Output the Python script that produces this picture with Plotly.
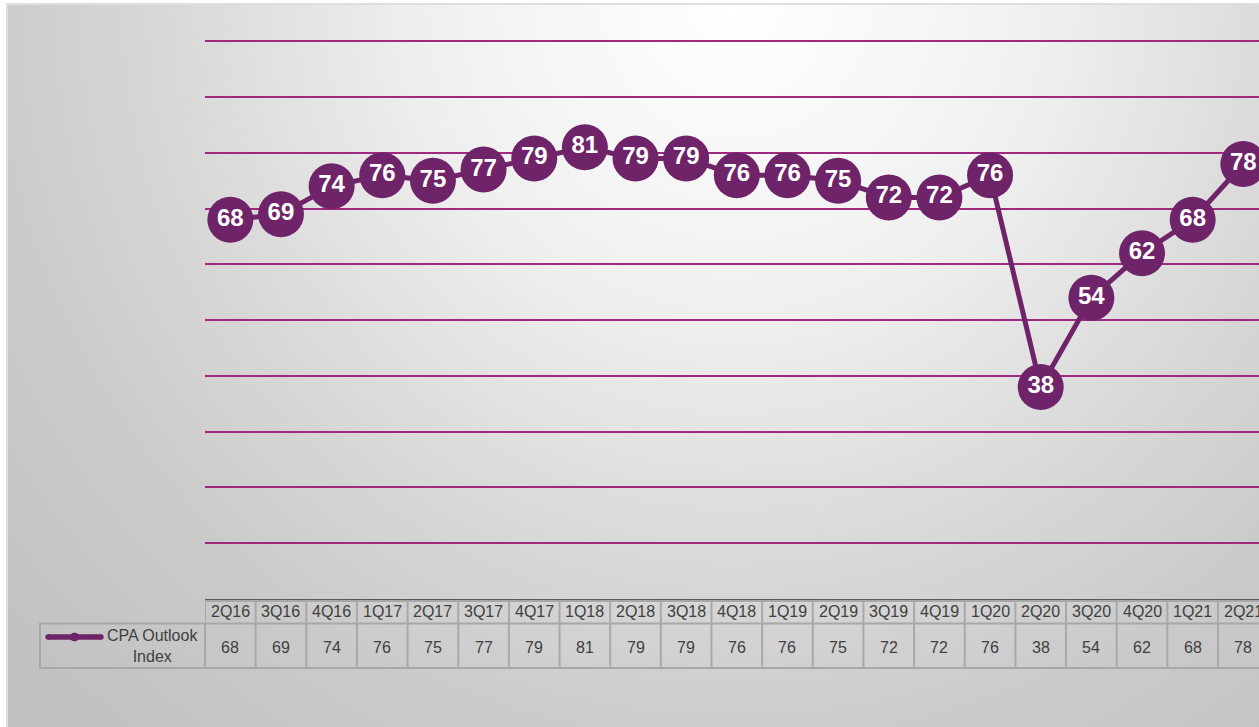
import base64
import plotly.graph_objects as go

# ---- data ----
quarters = ["2Q16", "3Q16", "4Q16", "1Q17", "2Q17", "3Q17", "4Q17", "1Q18", "2Q18", "3Q18",
            "4Q18", "1Q19", "2Q19", "3Q19", "4Q19", "1Q20", "2Q20", "3Q20", "4Q20", "1Q21", "2Q21"]
cpa_index = [68, 69, 74, 76, 75, 77, 79, 81, 79, 79, 76, 76, 75, 72, 72, 76, 38, 54, 62, 68, 78]
series_name = "CPA Outlook<br>Index"
grid_values = list(range(10, 101, 10))

# ---- geometry / style ----
W, H = 1259, 727
ML, MR, MT, MB = 205, 0, 19, 128
PW = W - ML - MR
PH = H - MT - MB
Y0 = MT + PH  # pixel row of value 0

PURPLE = "#6f2469"
GRID = "#9e2a80"
BORDER = "#a8a8a8"
TXT = "#404040"
FONT = "Liberation Sans, Arial, sans-serif"


def px_x(px):
    return (px - ML) / PW


def px_y(py):
    return (Y0 - py) / PH


# background radial gradient (svg data uri)
svg = (
    "<svg xmlns='http://www.w3.org/2000/svg' width='1260' height='730' viewBox='0 0 1260 730' preserveAspectRatio='none'>"
    "<defs><radialGradient id='g' cx='720' cy='0' r='1000' gradientUnits='userSpaceOnUse'>"
    "<stop offset='0' stop-color='#ffffff'/>"
    "<stop offset='0.3' stop-color='#f0f0f0'/>"
    "<stop offset='0.55' stop-color='#d9d9d9'/>"
    "<stop offset='0.75' stop-color='#cacaca'/>"
    "<stop offset='1' stop-color='#c0c0c0'/>"
    "</radialGradient></defs>"
    "<rect x='0' y='0' width='1260' height='730' fill='url(#g)'/></svg>"
)
bg_src = "data:image/svg+xml;base64," + base64.b64encode(svg.encode()).decode()

n = len(quarters)

fig = go.Figure()
fig.add_trace(go.Scatter(
    x=quarters, y=cpa_index,
    mode="lines+markers+text",
    line=dict(color=PURPLE, width=5),
    marker=dict(size=46, color=PURPLE, line=dict(width=0)),
    text=[str(v) for v in cpa_index],
    textposition="middle center",
    textfont=dict(family=FONT, size=24, color="white", weight="bold"),
    hoverinfo="x+y",
    showlegend=False,
))

shapes = []
# outer chart frame
shapes.append(dict(type="rect", xref="paper", yref="paper",
                   x0=px_x(7), x1=px_x(1300), y0=px_y(4), y1=px_y(760),
                   line=dict(color="#d4d4d4", width=1.5), fillcolor="rgba(0,0,0,0)", layer="below"))
# table grid - vertical lines
for k in range(n + 1):
    shapes.append(dict(type="line", xref="x", yref="paper",
                       x0=k - 0.5, x1=k - 0.5, y0=px_y(600), y1=px_y(669),
                       line=dict(color=BORDER, width=2)))
# table horizontal lines
for py in (601, 623.5, 668):
    shapes.append(dict(type="line", xref="x", yref="paper",
                       x0=-0.5, x1=n - 0.5, y0=px_y(py), y1=px_y(py),
                       line=dict(color=BORDER, width=2)))
# legend cell
shapes.append(dict(type="rect", xref="paper", yref="paper",
                   x0=px_x(40), x1=px_x(205), y0=px_y(623.5), y1=px_y(668),
                   line=dict(color=BORDER, width=2), fillcolor="rgba(0,0,0,0)"))
shapes.append(dict(type="line", xref="paper", yref="paper",
                   x0=px_x(48), x1=px_x(101), y0=px_y(637), y1=px_y(637),
                   line=dict(color=PURPLE, width=5.5)))
for cx in (48, 101):
    shapes.append(dict(type="circle", xref="paper", yref="paper",
                       x0=px_x(cx - 2.7), x1=px_x(cx + 2.7), y0=px_y(634.3), y1=px_y(639.7),
                       line=dict(width=0), fillcolor=PURPLE))
shapes.append(dict(type="circle", xref="paper", yref="paper",
                   x0=px_x(70.5), x1=px_x(78.5), y0=px_y(633), y1=px_y(641),
                   line=dict(color=PURPLE, width=1), fillcolor=PURPLE))

annotations = []
for q, v in zip(quarters, cpa_index):
    annotations.append(dict(x=q, xref="x", y=px_y(611), yref="paper", text=q,
                            showarrow=False, xanchor="center", yanchor="middle",
                            font=dict(family=FONT, size=16, color=TXT)))
    annotations.append(dict(x=q, xref="x", y=px_y(647), yref="paper", text=str(v),
                            showarrow=False, xanchor="center", yanchor="middle",
                            font=dict(family=FONT, size=16, color=TXT)))
annotations.append(dict(x=px_x(152), xref="paper", y=px_y(646), yref="paper", text=series_name,
                        showarrow=False, xanchor="center", yanchor="middle", align="center",
                        font=dict(family=FONT, size=16, color=TXT)))

fig.update_layout(
    width=W, height=H,
    margin=dict(l=ML, r=MR, t=MT, b=MB, pad=0),
    paper_bgcolor="white",
    plot_bgcolor="rgba(0,0,0,0)",
    xaxis=dict(type="category", range=[-0.5, -0.5 + PW / 50.65], showgrid=False,
               showticklabels=False, ticks="", showline=True, linecolor="#595959",
               linewidth=1.5, zeroline=False, fixedrange=True),
    yaxis=dict(range=[0, 104], tickmode="array", tickvals=grid_values, showticklabels=False,
               ticks="", gridcolor=GRID, gridwidth=2, zeroline=False, showline=False,
               fixedrange=True),
    shapes=shapes,
    annotations=annotations,
    images=[dict(source=bg_src, xref="paper", yref="paper",
                 x=px_x(8), y=px_y(5), sizex=(W - 8) / PW + 0.02, sizey=(H - 5) / PH + 0.02,
                 xanchor="left", yanchor="top", sizing="stretch", layer="below")],
    showlegend=False,
)

fig.write_html("out.html")
